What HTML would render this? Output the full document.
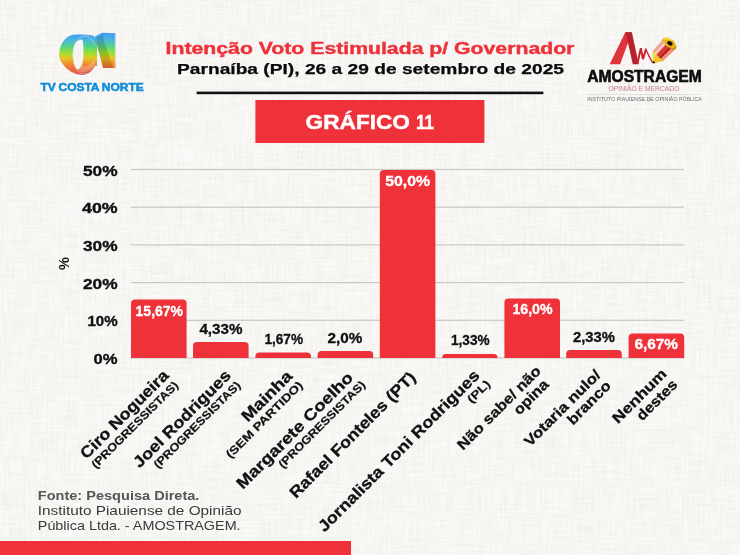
<!DOCTYPE html>
<html lang="pt"><head><meta charset="utf-8"><title>Gráfico 11</title>
<style>
html,body{margin:0;padding:0;background:#f7f6f3;}
body{width:740px;height:555px;overflow:hidden;font-family:"Liberation Sans",sans-serif;}
svg{display:block;}
text{font-family:"Liberation Sans",sans-serif;}
.b{font-weight:bold;}
</style></head><body>
<svg width="740" height="555" viewBox="0 0 740 555">
<filter id="tx" x="0" y="0" width="100%" height="100%" color-interpolation-filters="sRGB">
<feTurbulence type="fractalNoise" baseFrequency="0.035 0.47" numOctaves="2" seed="7" result="a"/>
<feTurbulence type="fractalNoise" baseFrequency="0.45 0.035" numOctaves="2" seed="11" result="b"/>
<feComposite in="a" in2="b" operator="arithmetic" k1="0" k2="0.5" k3="0.5" k4="0" result="n"/>
<feColorMatrix in="n" type="matrix" values="0 0 0 0 0.55  0 0 0 0 0.5  0 0 0 0 0.42  0.2 0.09 0 0 -0.118"/>
</filter>
<rect x="0" y="0" width="740" height="555" fill="#faf9f7"/>
<rect x="0" y="0" width="740" height="555" filter="url(#tx)"/>
<g opacity="0.999">
<text x="165.6" y="54.4" font-size="16" font-weight="bold" fill="#ef3139" text-anchor="start" textLength="408.8" lengthAdjust="spacingAndGlyphs" stroke="#ef3139" stroke-width="0.4">Intenção Voto Estimulada p/ Governador</text>
<text x="177" y="74.4" font-size="15.4" font-weight="bold" fill="#0a0a0a" text-anchor="start" textLength="387" lengthAdjust="spacingAndGlyphs" stroke="#0a0a0a" stroke-width="0.25">Parnaíba (PI), 26 a 29 de setembro de 2025</text>
<rect x="196.6" y="91.6" width="346.8" height="2.6" fill="#111"/>
<rect x="255.4" y="100" width="229" height="43" fill="#ef3139"/>
<text x="305.6" y="128.6" font-size="20.4" font-weight="bold" fill="#fff" text-anchor="start" textLength="104.4" lengthAdjust="spacingAndGlyphs" stroke="#fff" stroke-width="0.45">GRÁFICO</text>
<text x="416" y="128.6" font-size="20.4" font-weight="bold" fill="#fff" text-anchor="start" textLength="18" lengthAdjust="spacingAndGlyphs" stroke="#fff" stroke-width="0.45">11</text>
<defs>
<linearGradient id="rb" gradientUnits="userSpaceOnUse" x1="0" y1="33" x2="0" y2="75">
<stop offset="0" stop-color="#3a97f3"/><stop offset="0.16" stop-color="#46b2e4"/><stop offset="0.32" stop-color="#4fd283"/>
<stop offset="0.48" stop-color="#9ae02c"/><stop offset="0.6" stop-color="#e6c421"/><stop offset="0.74" stop-color="#f08a2a"/>
<stop offset="0.9" stop-color="#e85a3a"/><stop offset="1" stop-color="#df4a4a"/></linearGradient>
<linearGradient id="bl" x1="0" y1="0" x2="0" y2="1"><stop offset="0" stop-color="#0a7fd0"/><stop offset="1" stop-color="#1c9ee6"/></linearGradient>
</defs>
<g>
<path d="M59.2,55.1 C59.2,50 60.5,46 62.2,43 C65,38.6 68,36.2 71.3,35.2 C76,34.2 88,34.4 93.9,36.1 C96.6,42 97.3,50 97,55 C96.8,60 96.2,63 95.7,64.1 C94,69 91.5,71.4 90.3,72.2 C87,74.4 84.5,75 82.1,74.9 C78,74.7 76,74 74,73.1 C70,71.4 67,69 65,66.8 C62,63.2 59.4,60 59.2,55.1 Z" fill="url(#rb)"/>
<path d="M62.4,56 C62.4,46 66,39.6 73,37 M65.6,57 C65.4,48 68.5,41.5 75,38.2 M68.8,58 C68.6,50 71,43 76.5,39.6 M62.6,57 C63.4,65 69,71 78,73 M66,58.5 C66.6,64.5 71,69.6 78.5,71.6" fill="none" stroke="#ffffff" stroke-width="0.5" opacity="0.22"/>
<path d="M81.6,39.4 C83.4,39.6 83.6,44 83.5,55 C83.4,60 82.8,62.5 82.1,64 C81,67 79.4,69 77.6,69.6 C74.6,68.6 73.4,63 72.9,57 C72.5,51 73.4,47 74.2,45 C75.8,41.4 78.6,39.3 81.6,39.4 Z" fill="#f6f4f1"/>
<path d="M82.1,64 C81,67 79.4,69 77.6,69.6 C79.5,72 83,73.4 87,72 C91,70 94,66 95.6,61 L95.8,56 C93,62 89,66.5 84.5,66.6 Z" fill="#ffffff" opacity="0.25"/>
<path d="M86,38 L86,66 M89,37.5 L89,66 M92,37.5 L92,64" stroke="#ffffff" stroke-width="0.5" opacity="0.16" fill="none"/>
<ellipse cx="84.7" cy="55" rx="12.1" ry="19.3" fill="none" stroke="#cdd1d8" stroke-width="0.75" opacity="0.9"/>
<path d="M94.9,36.6 L102.2,32.8 L115.5,33.2 L115.5,68.1 L103,68.1 L96.9,44.6 L96.9,66 L94.9,66 Z" fill="url(#rb)"/>
<path d="M96.9,37.4 L102.2,35.2 L113.1,68.1 L103,68.1 L96.9,44.6 Z" fill="#3a1a00" opacity="0.16"/>
<path d="M105.4,34 L105.4,46 M108.2,34 L108.2,54 M111,34 L111,62" stroke="#ffffff" stroke-width="0.55" opacity="0.22" fill="none"/>
<path d="M114.9,33.4 L114.9,68" stroke="#cdd1d8" stroke-width="0.8" opacity="0.85" fill="none"/>
</g>
<text x="40.5" y="90.9" font-size="11.2" font-weight="bold" fill="url(#bl)" text-anchor="start" textLength="103.2" lengthAdjust="spacingAndGlyphs" stroke="#0f8ad8" stroke-width="0.55" word-spacing="-0.6">TV COSTA NORTE</text>
<g>
<path d="M609.7,64.2 L625.3,32.3 L631.9,32.3 L620.1,64.2 Z" fill="#e0343c"/>
<path d="M625.3,32.3 L631.9,32.3 L638.7,64.2 L632.8,64.2 L627.6,41 Z" fill="#b8212b"/>
<path d="M637.4,63.8 L640.8,48.2 L642.9,59.1 L646,49.3" fill="none" stroke="#c9252f" stroke-width="2" stroke-linejoin="miter"/>
<path d="M642.9,59.1 L646,49.3 L648.7,55.6 L652.8,63" fill="none" stroke="#c9252f" stroke-width="1.3" stroke-linejoin="miter"/>
<path d="M652.9,63.3 L652.7,50.9 L662.9,61.2 Z" fill="#f0c41e"/>
<path d="M652.9,63.3 L652.7,50.9 L656.2,54.4 Z" fill="#f7dc4a"/>
<path d="M652.9,63.4 L652.8,60.4 L655.6,62.9 Z" fill="#1a1612"/>
<path d="M652.9,50.9 L663.0,39.2 L665.9,41.3 L655.1,53.2 Z" fill="#f3a595"/>
<path d="M655.1,53.2 L665.9,41.3 L667.7,42.6 L656.4,54.6 Z" fill="#f9d3c4"/>
<path d="M656.4,54.6 L667.7,42.6 L670.8,44.8 L658.8,57.1 Z" fill="#e2312f"/>
<path d="M658.8,57.1 L670.8,44.8 L673.4,46.7 L660.7,59.1 Z" fill="#b51c23"/>
<path d="M660.7,59.1 L673.4,46.7 L676.0,48.6 L662.7,61.2 Z" fill="#f08e6e"/>
<path d="M662.3,39 L666.6,37.2 L673.8,40.8 L676.4,45.9 L676,48.9 L672.4,49.8 L666.6,46.2 L662.7,40.8 Z" fill="#e6b417"/>
<path d="M662.3,39 L666.6,37.2 L673.8,40.8 L670,40.2 L665.5,39.6 Z" fill="#f6d548"/>
<path d="M676.4,45.9 L676,48.9 L672.4,49.8 L666.6,46.2 L668,46 L672.6,48.4 Z" fill="#c4930f"/>
<ellipse cx="669.9" cy="43.3" rx="2.9" ry="2" transform="rotate(28 669.9 43.3)" fill="#120d08"/>
</g>
<text x="587.2" y="81.8" font-size="15.6" font-weight="bold" fill="#0c0c0c" text-anchor="start" textLength="114.6" lengthAdjust="spacingAndGlyphs" stroke="#0c0c0c" stroke-width="0.6">AMOSTRAGEM</text>
<text x="608.5" y="91.0" font-size="7.2" font-weight="normal" fill="#c27c88" text-anchor="start" textLength="71" lengthAdjust="spacingAndGlyphs">OPINIÃO E MERCADO</text>
<rect x="587" y="94.2" width="115" height="0.5" fill="#cfcfcf"/>
<text x="587.2" y="101.1" font-size="5.2" font-weight="normal" fill="#6a6a6a" text-anchor="start" textLength="114.6" lengthAdjust="spacingAndGlyphs">INSTITUTO PIAUIENSE DE OPINIÃO PÚBLICA</text>
<rect x="131" y="357.40" width="553" height="1.2" fill="#c9c8c6"/>
<text x="93.6" y="364.0" font-size="14.4" font-weight="bold" fill="#111" text-anchor="start" textLength="24.0" lengthAdjust="spacingAndGlyphs" stroke="#111" stroke-width="0.35">0%</text>
<rect x="131" y="319.70" width="553" height="1.2" fill="#c9c8c6"/>
<text x="87.39999999999999" y="326.3" font-size="14.4" font-weight="bold" fill="#111" text-anchor="start" textLength="30.2" lengthAdjust="spacingAndGlyphs" stroke="#111" stroke-width="0.35">10%</text>
<rect x="131" y="282.00" width="553" height="1.2" fill="#c9c8c6"/>
<text x="83.0" y="288.6" font-size="14.4" font-weight="bold" fill="#111" text-anchor="start" textLength="34.6" lengthAdjust="spacingAndGlyphs" stroke="#111" stroke-width="0.35">20%</text>
<rect x="131" y="244.30" width="553" height="1.2" fill="#c9c8c6"/>
<text x="83.0" y="250.89999999999998" font-size="14.4" font-weight="bold" fill="#111" text-anchor="start" textLength="34.6" lengthAdjust="spacingAndGlyphs" stroke="#111" stroke-width="0.35">30%</text>
<rect x="131" y="206.60" width="553" height="1.2" fill="#c9c8c6"/>
<text x="82.0" y="213.2" font-size="14.4" font-weight="bold" fill="#111" text-anchor="start" textLength="35.6" lengthAdjust="spacingAndGlyphs" stroke="#111" stroke-width="0.35">40%</text>
<rect x="131" y="168.90" width="553" height="1.2" fill="#c9c8c6"/>
<text x="83.0" y="175.5" font-size="14.4" font-weight="bold" fill="#111" text-anchor="start" textLength="34.6" lengthAdjust="spacingAndGlyphs" stroke="#111" stroke-width="0.35">50%</text>
<text transform="translate(68.6,263.7) rotate(-90)" font-size="14.4" font-weight="bold" fill="#111" text-anchor="middle">%</text>
<path d="M131.0,358.0 V303.4 Q131.0,299.4 135.0,299.4 H182.6 Q186.6,299.4 186.6,303.4 V358.0 Z" fill="#ef3139"/>
<text x="135.6" y="315.6" font-size="14.2" font-weight="bold" fill="#fff" text-anchor="start" textLength="47.4" lengthAdjust="spacingAndGlyphs" stroke="#fff" stroke-width="0.3">15,67%</text>
<path d="M193.0,358.0 V346.0 Q193.0,342.0 197.0,342.0 H244.6 Q248.6,342.0 248.6,346.0 V358.0 Z" fill="#ef3139"/>
<text x="199.4" y="334.0" font-size="14.2" font-weight="bold" fill="#111" text-anchor="start" textLength="43.0" lengthAdjust="spacingAndGlyphs" stroke="#111" stroke-width="0.3">4,33%</text>
<path d="M255.4,358.0 V356.4 Q255.4,352.4 259.4,352.4 H307.0 Q311.0,352.4 311.0,356.4 V358.0 Z" fill="#ef3139"/>
<text x="264.4" y="343.6" font-size="14.2" font-weight="bold" fill="#111" text-anchor="start" textLength="38.6" lengthAdjust="spacingAndGlyphs" stroke="#111" stroke-width="0.3">1,67%</text>
<path d="M317.6,358.0 V355.0 Q317.6,351.0 321.6,351.0 H369.2 Q373.2,351.0 373.2,355.0 V358.0 Z" fill="#ef3139"/>
<text x="327.6" y="343.2" font-size="14.2" font-weight="bold" fill="#111" text-anchor="start" textLength="34.8" lengthAdjust="spacingAndGlyphs" stroke="#111" stroke-width="0.3">2,0%</text>
<path d="M379.8,358.0 V174.0 Q379.8,170.0 383.8,170.0 H431.4 Q435.4,170.0 435.4,174.0 V358.0 Z" fill="#ef3139"/>
<text x="385.2" y="186.0" font-size="14.2" font-weight="bold" fill="#fff" text-anchor="start" textLength="44.8" lengthAdjust="spacingAndGlyphs" stroke="#fff" stroke-width="0.3">50,0%</text>
<path d="M442.0,358.0 V358.0 Q442.0,354.0 446.0,354.0 H493.6 Q497.6,354.0 497.6,358.0 V358.0 Z" fill="#ef3139"/>
<text x="451.0" y="345.0" font-size="14.2" font-weight="bold" fill="#111" text-anchor="start" textLength="38.6" lengthAdjust="spacingAndGlyphs" stroke="#111" stroke-width="0.3">1,33%</text>
<path d="M504.4,358.0 V302.4 Q504.4,298.4 508.4,298.4 H556.0 Q560.0,298.4 560.0,302.4 V358.0 Z" fill="#ef3139"/>
<text x="512.4" y="314.2" font-size="14.2" font-weight="bold" fill="#fff" text-anchor="start" textLength="40.2" lengthAdjust="spacingAndGlyphs" stroke="#fff" stroke-width="0.3">16,0%</text>
<path d="M566.2,358.0 V354.0 Q566.2,350.0 570.2,350.0 H617.8 Q621.8,350.0 621.8,354.0 V358.0 Z" fill="#ef3139"/>
<text x="573.0" y="342.0" font-size="14.2" font-weight="bold" fill="#111" text-anchor="start" textLength="42.0" lengthAdjust="spacingAndGlyphs" stroke="#111" stroke-width="0.3">2,33%</text>
<path d="M628.6,358.0 V337.4 Q628.6,333.4 632.6,333.4 H680.2 Q684.2,333.4 684.2,337.4 V358.0 Z" fill="#ef3139"/>
<text x="634.4" y="349.4" font-size="14.2" font-weight="bold" fill="#fff" text-anchor="start" textLength="43.6" lengthAdjust="spacingAndGlyphs" stroke="#fff" stroke-width="0.3">6,67%</text>
<g transform="translate(169.7,376.5) rotate(-45)">
<text x="0" y="0" font-size="16.0" font-weight="bold" fill="#111" stroke="#111" stroke-width="0.3" text-anchor="end" textLength="117.6" lengthAdjust="spacingAndGlyphs">Ciro Nogueira</text>
<text x="0" y="13.3" font-size="11.3" font-weight="bold" fill="#111" stroke="#111" stroke-width="0.2" text-anchor="end" textLength="117.5" lengthAdjust="spacingAndGlyphs">(PROGRESSISTAS)</text>
</g>
<g transform="translate(231.9,376.5) rotate(-45)">
<text x="0" y="0" font-size="16.0" font-weight="bold" fill="#111" stroke="#111" stroke-width="0.3" text-anchor="end" textLength="130.6" lengthAdjust="spacingAndGlyphs">Joel Rodrigues</text>
<text x="0" y="13.3" font-size="11.3" font-weight="bold" fill="#111" stroke="#111" stroke-width="0.2" text-anchor="end" textLength="117.5" lengthAdjust="spacingAndGlyphs">(PROGRESSISTAS)</text>
</g>
<g transform="translate(294.1,376.5) rotate(-45)">
<text x="-1" y="0" font-size="16.0" font-weight="bold" fill="#111" stroke="#111" stroke-width="0.3" text-anchor="end" textLength="64.5" lengthAdjust="spacingAndGlyphs">Mainha</text>
<text x="-0.2" y="13.3" font-size="11.3" font-weight="bold" fill="#111" stroke="#111" stroke-width="0.2" text-anchor="end" textLength="103" lengthAdjust="spacingAndGlyphs">(SEM PARTIDO)</text>
</g>
<g transform="translate(356.3,376.5) rotate(-45)">
<text x="-3" y="0" font-size="16.0" font-weight="bold" fill="#111" stroke="#111" stroke-width="0.3" text-anchor="end" textLength="157.5" lengthAdjust="spacingAndGlyphs">Margarete Coelho</text>
<text x="0.5" y="13.3" font-size="11.3" font-weight="bold" fill="#111" stroke="#111" stroke-width="0.2" text-anchor="end" textLength="117.5" lengthAdjust="spacingAndGlyphs">(PROGRESSISTAS)</text>
</g>
<g transform="translate(418.5,376.5) rotate(-45)">
<text x="-2.4" y="0" font-size="16.0" font-weight="bold" fill="#111" stroke="#111" stroke-width="0.3" text-anchor="end" textLength="171" lengthAdjust="spacingAndGlyphs">Rafael Fonteles (PT)</text>
</g>
<g transform="translate(480.7,376.5) rotate(-45)">
<text x="0" y="0" font-size="16.0" font-weight="bold" fill="#111" stroke="#111" stroke-width="0.3" text-anchor="end" textLength="221" lengthAdjust="spacingAndGlyphs">Jornalista Toni Rodrigues</text>
<text x="1.5" y="13.0" font-size="11.3" font-weight="bold" fill="#111" stroke="#111" stroke-width="0.2" text-anchor="end" textLength="27" lengthAdjust="spacingAndGlyphs">(PL)</text>
</g>
<g transform="translate(541.8,371.9) rotate(-45)">
<text x="0" y="0" font-size="14.5" font-weight="bold" fill="#111" stroke="#111" stroke-width="0.3" text-anchor="end" textLength="111.4" lengthAdjust="spacingAndGlyphs">Não sabe/ não</text>
<text x="-4" y="15" font-size="14.5" font-weight="bold" fill="#111" stroke="#111" stroke-width="0.3" text-anchor="end" textLength="43" lengthAdjust="spacingAndGlyphs">opina</text>
</g>
<g transform="translate(604.0,373.3) rotate(-45)">
<text x="-3.5" y="0" font-size="14.5" font-weight="bold" fill="#111" stroke="#111" stroke-width="0.3" text-anchor="end" textLength="101" lengthAdjust="spacingAndGlyphs">Votaria nulo/</text>
<text x="-4" y="15" font-size="14.5" font-weight="bold" fill="#111" stroke="#111" stroke-width="0.3" text-anchor="end" textLength="55" lengthAdjust="spacingAndGlyphs">branco</text>
</g>
<g transform="translate(667.6,374.75) rotate(-45)">
<text x="0" y="0" font-size="14.5" font-weight="bold" fill="#111" stroke="#111" stroke-width="0.3" text-anchor="end" textLength="70" lengthAdjust="spacingAndGlyphs">Nenhum</text>
<text x="0" y="15.2" font-size="14.5" font-weight="bold" fill="#111" stroke="#111" stroke-width="0.3" text-anchor="end" textLength="51" lengthAdjust="spacingAndGlyphs">destes</text>
</g>
<text x="37.8" y="500.3" font-size="13.6" font-weight="bold" fill="#555" text-anchor="start" textLength="161.6" lengthAdjust="spacingAndGlyphs">Fonte: Pesquisa Direta.</text>
<text x="37.8" y="514.8" font-size="13.6" font-weight="normal" fill="#3a3a3a" text-anchor="start" textLength="203.7" lengthAdjust="spacingAndGlyphs">Instituto Piauiense de Opinião</text>
<text x="37.8" y="529.5" font-size="13.6" font-weight="normal" fill="#3a3a3a" text-anchor="start" textLength="202.8" lengthAdjust="spacingAndGlyphs">Pública Ltda. - AMOSTRAGEM.</text>
<rect x="0" y="541" width="351" height="14" fill="#ef3139"/>
</g>
</svg>
</body></html>
